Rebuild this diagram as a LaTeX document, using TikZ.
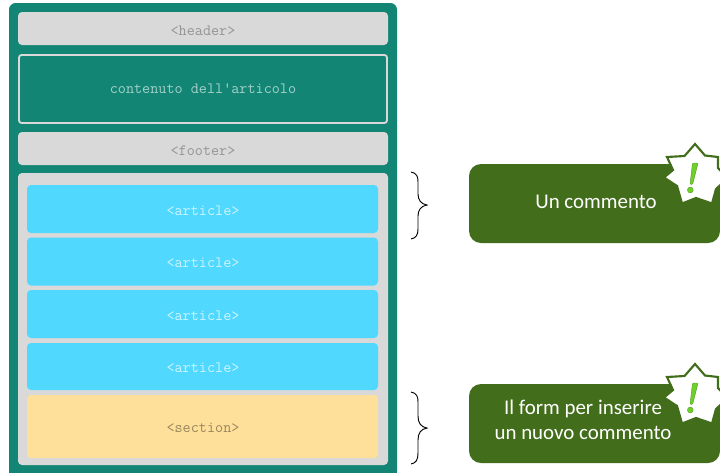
\documentclass[tikz,border=0pt]{standalone}
\usepackage{fontspec}
\newfontfamily\calloutfont{Carlito}
\definecolor{teal1}{HTML}{138574}
\definecolor{grayfill}{HTML}{D9D9D9}
\definecolor{skyfill}{HTML}{50D8FF}
\definecolor{sandfill}{HTML}{FFE09A}
\definecolor{leaf}{HTML}{426D1A}
\definecolor{bang}{HTML}{6FD02A}
\tikzset{
  x=0.75pt,y=-0.75pt,
  boxbase/.style={rounded corners=3pt,draw=none},
  tagtext/.style={font=\ttfamily\fontsize{11.8}{12}\selectfont,inner sep=0pt,anchor=center},
  callout/.style={font=\calloutfont\fontsize{15.7}{18.7}\selectfont,text=white,align=center,inner sep=0pt},
  bracket/.style={draw=black,line width=0.7pt},
  starshape/.style={fill=white,draw=leaf,line width=1.6pt,line join=miter},
}
\newcommand{\tagbox}[6]{% name x1 y1 x2 y2 fill
  \fill[boxbase,#6] (#2,#3) rectangle (#4,#5);
  \coordinate (#1) at ({(#2+#4)/2},{(#3+#5)/2});
}
\newcommand{\warnstar}[1]{% y offset
  \begin{scope}[yshift={-0.75pt*#1}]
    \clip (640,130) rectangle (720,215);
    \draw[starshape]
      (695,144) -- (684.5,156) -- (667,157) -- (673,170) -- (664,177.5)
      -- (677,186) -- (682,203.5) -- (696,198) -- (712,203.5) -- (716,189)
      -- (728,178) -- (718,168) -- (718,157) -- (705,155.5) -- cycle;
    \fill[bang,draw=bang!75!black,line width=0.3pt,rounded corners=0.8pt]
      (692.5,163) -- (698,163) -- (692.6,184.5) -- (690,184.5) -- cycle;
    \fill[bang,draw=bang!75!black,line width=0.3pt] (690.3,190) circle[radius=2.9];
  \end{scope}
}
\begin{document}
\begin{tikzpicture}
\useasboundingbox (0,0) rectangle (720,472);
\fill[teal1,rounded corners=5pt] (9,3) rectangle (397,479);
\clip (0,0) rectangle (720,472);

\tagbox{header}{18}{12}{388}{45}{grayfill}
\node[tagtext,text=black!42] (headerT) at (203,31) {<header>};

\draw[grayfill,line width=1.4pt,fill=teal1,rounded corners=2pt] (19,55) rectangle (387,123);
\node[tagtext,text=white!62!teal1] (contentT) at (203,89) {contenuto dell'articolo};

\tagbox{footer}{18}{132}{388}{165}{grayfill}
\node[tagtext,text=black!42] (footerT) at (203,151) {<footer>};

\tagbox{wrap}{18}{173}{388}{465}{grayfill}

\tagbox{artA}{27}{185}{378}{233}{skyfill}
\node[tagtext,text=white!72!skyfill] (artAT) at (203,211) {<article>};
\tagbox{artB}{27}{237.5}{378}{285.5}{skyfill}
\node[tagtext,text=white!72!skyfill] (artBT) at (203,263) {<article>};
\tagbox{artC}{27}{290}{378}{338}{skyfill}
\node[tagtext,text=white!72!skyfill] (artCT) at (203,316) {<article>};
\tagbox{artD}{27}{343}{378}{390}{skyfill}
\node[tagtext,text=white!72!skyfill] (artDT) at (203,368) {<article>};
\tagbox{sect}{27}{395}{378}{458}{sandfill}
\node[tagtext,text=black!40!sandfill] (sectT) at (203,428) {<section>};

\draw[bracket] (411,172) .. controls (417,173) and (418,177) .. (418,182)
  -- (418,194) .. controls (418,200) and (421,204) .. (427,205)
  .. controls (421,206) and (418,210) .. (418,216)
  -- (418,229) .. controls (418,235) and (416,238) .. (411,239);
\draw[bracket] (411,392) .. controls (417,393) and (418,397) .. (418,402)
  -- (418,416) .. controls (418,423) and (421,427) .. (427,428)
  .. controls (421,429) and (418,433) .. (418,440)
  -- (418,453) .. controls (418,460) and (416,463) .. (411,464);

\fill[leaf,rounded corners=9pt] (469,164) rectangle (720,243);
\fill[leaf,rounded corners=9pt] (469,384) rectangle (720,463);
\warnstar{0}
\warnstar{220}
\node[callout] (noteA) at (596,201.5) {Un commento};
\node[callout] (noteB) at (583,420) {Il form per inserire\\un nuovo commento};
\end{tikzpicture}
\end{document}
